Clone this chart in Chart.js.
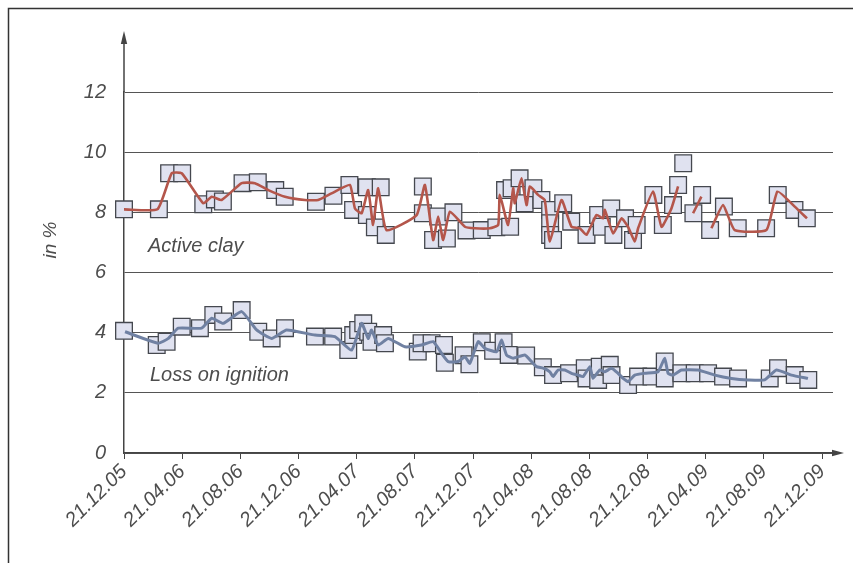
<!DOCTYPE html>
<html>
<head>
<meta charset="utf-8">
<script src="https://cdn.jsdelivr.net/npm/chart.js@4/dist/chart.umd.min.js"></script>
<style>
  html, body { margin: 0; padding: 0; background: #fff; }
  #wrap { width: 853px; height: 563px; position: relative; }
  canvas { display: block; }
</style>
</head>
<body>
<div id="wrap"><canvas id="chart" width="853" height="563"></canvas></div>
<script>
// Sampling dates on the x axis are given in months after 21.12.05.
const tickLabels = ['21.12.05', '21.04.06', '21.08.06', '21.12.06', '21.04.07', '21.08.07', '21.12.07',
                    '21.04.08', '21.08.08', '21.12.08', '21.04.09', '21.08.09', '21.12.09'];
const yTicks = [0, 2, 4, 6, 8, 10, 12];

// Active clay: individual samples (%)
const clayMonths = [0, 2.4, 3.1, 4.0, 5.45, 6.25, 6.8, 8.15, 9.2, 10.4, 11.05, 13.2, 14.4, 15.5, 15.75,
  16.7, 16.7, 17.25, 17.65, 18.0, 20.55, 20.55, 21.25, 21.6, 22.2, 22.65, 23.55, 24.6, 25.6, 26.2,
  26.55, 26.65, 27.2, 27.55, 28.15, 28.7, 29.3, 29.3, 29.3, 29.5, 30.2, 30.75, 31.8, 32.6, 32.85,
  33.5, 33.65, 34.45, 35.0, 35.25, 36.4, 37.05, 37.75, 38.1, 38.45, 39.15, 39.75, 40.3, 41.25,
  42.2, 44.15, 44.95, 46.1, 46.95];
const clayValues = [8.1, 8.1, 9.3, 9.3, 8.27, 8.43, 8.36, 8.97, 9.0, 8.74, 8.52, 8.35, 8.55, 8.91, 8.08,
  8.83, 7.91, 7.5, 8.83, 7.25, 8.86, 7.97, 7.08, 7.86, 7.13, 8.0, 7.4, 7.41, 7.5, 8.74,
  7.52, 8.8, 9.13, 8.3, 8.8, 8.41, 8.08, 7.64, 7.25, 7.08, 8.3, 7.69, 7.25, 7.91, 7.52,
  8.13, 7.25, 7.8, 7.08, 7.58, 8.58, 7.58, 8.24, 8.91, 9.63, 7.97, 8.58, 7.41, 8.19,
  7.47, 7.47, 8.58, 8.08, 7.8];

// Active clay: connecting curve (null = break in the curve)
const clayLineMonths = [0, 2.3, 3.28, 3.97, 5.45, 6.03, 6.71, 8.09, 9.0, 9.92, 11.07, 12.44, 13.35, 14.27,
  15.53, 15.88, 16.34, 16.79, 17.13, 17.48, 18.05, 20.12, 20.69, 21.26, 21.6, 21.95, 22.41, 23.44,
  24.12, 25.15, 25.73, 25.84, 26.41, 26.76, 26.87, 27.33, 27.68, 27.9, 28.47, 28.93, 29.28, 30.08,
  30.77, 31.34, 31.8, 32.49, 32.94, 33.06, 33.63, 34.21, 34.66, 35.12, 35.35, 36.38, 36.96, 37.64,
  38.1, 38.6, 39.13, 39.7, 40.0, 40.39, 41.19, 41.99, 44.17, 44.93, 46.12, 46.96];
const clayLineValues = [8.1, 8.1, 9.3, 9.3, 8.3, 8.52, 8.41, 8.97, 8.97, 8.74, 8.52, 8.41, 8.41, 8.63,
  8.91, 8.13, 7.97, 8.74, 7.58, 8.8, 7.41, 7.91, 8.91, 7.08, 7.86, 7.08, 8.02, 7.52,
  7.47, 7.47, 7.58, 8.58, 7.58, 8.8, 8.3, 9.13, 8.24, 8.86, 8.58, 8.41, 7.03, 8.41,
  7.52, 7.47, 7.25, 7.91, 7.8, 8.08, 7.3, 7.8, 7.52, 7.03, 7.47, 8.69, 7.52, 8.13,
  8.86, null, 7.97, 8.52, null, 7.47, 8.24, 7.41, 7.41, 8.69, 8.19, 7.8];

// Loss on ignition: individual samples (%)
const lossMonths = [0, 2.25, 2.93, 3.97, 5.22, 6.14, 6.82, 8.09, 9.23, 10.15, 11.07, 13.13, 14.38, 15.42,
  15.76, 16.1, 16.45, 16.79, 17.02, 17.82, 17.94, 20.2, 20.46, 21.15, 22.0, 22.06, 23.35, 23.75,
  24.6, 25.38, 26.1, 26.45, 27.65, 28.8, 29.5, 30.6, 31.68, 31.8, 32.6, 32.71, 33.4, 33.52, 34.66,
  35.35, 36.27, 37.18, 37.18, 38.33, 39.24, 40.16, 41.19, 42.22, 44.4, 44.97, 46.12, 47.05];
const lossValues = [4.06, 3.59, 3.7, 4.2, 4.15, 4.59, 4.37, 4.75, 4.03, 3.81, 4.15, 3.87, 3.87, 3.42,
  3.92, 4.09, 4.31, 4.03, 3.7, 3.92, 3.65, 3.37, 3.65, 3.65, 3.59, 3.0, 3.25, 2.95,
  3.68, 3.4, 3.68, 3.26, 3.24, 2.85, 2.59, 2.65, 2.82, 2.48, 2.43, 2.87, 2.93, 2.59, 2.26,
  2.54, 2.54, 3.04, 2.48, 2.65, 2.65, 2.65, 2.54, 2.48, 2.48, 2.82, 2.59, 2.43];

// Loss on ignition: connecting curve
const lossLineMonths = [0.07, 2.36, 3.05, 3.73, 5.34, 6.03, 6.82, 8.09, 9.12, 10.15, 11.18, 13.13, 14.5,
  15.65, 16.34, 16.79, 17.02, 17.48, 18.17, 19.31, 20.46, 21.26, 21.84, 22.29, 22.98, 23.44, 23.78,
  24.35, 24.81, 25.62, 25.96, 26.3, 26.76, 27.56, 28.02, 28.36, 28.82, 29.28, 29.5, 29.85, 30.31,
  30.77, 31.22, 31.57, 32.03, 32.25, 32.71, 33.06, 33.52, 33.97, 34.32, 34.66, 35.12, 35.81, 36.72,
  37.18, 37.41, 37.75, 38.33, 39.47, 40.62, 41.77, 42.91, 44.05, 44.86, 45.89, 47.03];
const lossLineValues = [4.03, 3.65, 3.81, 4.15, 4.15, 4.48, 4.31, 4.7, 4.09, 3.81, 4.09, 3.92, 3.87,
  3.42, 4.31, 3.81, 4.09, 3.59, 3.81, 3.53, 3.59, 3.7, 3.31, 3.04, 3.04, 3.2, 2.98,
  3.7, 3.48, 3.37, 3.76, 3.26, 3.15, 3.26, 3.04, 2.87, 2.82, 2.7, 2.54, 2.76, 2.76,
  2.65, 2.59, 2.54, 2.87, 2.48, 2.76, 2.7, 2.82, 2.65, 2.48, 2.37, 2.59, 2.65, 2.7,
  3.15, 2.65, 2.59, 2.76, 2.76, 2.59, 2.48, 2.43, 2.43, 2.76, 2.59, 2.48];

const FONT = '"Liberation Sans", Arial, sans-serif';
const TEXT = '#4d4d4d';
const AXIS = '#444';

const toPoints = (xs, ys) => xs.map((x, i) => ({ x: x, y: ys[i] }));

const markerStyle = {
  showLine: false,
  pointStyle: 'rect',
  pointRadius: 11.8,
  pointBackgroundColor: '#e0e2f0',
  pointBorderColor: '#45484f',
  pointBorderWidth: 1.3,
  clip: false,
  order: 2
};
const curveStyle = {
  pointRadius: 0,
  tension: 0.15,
  spanGaps: false,
  clip: false,
  order: 1
};

// Frame, axis arrows, y title and series names
const decorations = {
  id: 'decorations',
  afterDraw(chart) {
    const ctx = chart.ctx;
    const a = chart.chartArea;
    const xs = chart.scales.x, ys = chart.scales.y;
    const x0 = xs.getPixelForValue(0);
    const y0 = ys.getPixelForValue(0);
    ctx.save();
    // outer frame
    ctx.strokeStyle = '#333';
    ctx.lineWidth = 1.5;
    ctx.beginPath();
    ctx.moveTo(8.5, 563);
    ctx.lineTo(8.5, 8.5);
    ctx.lineTo(853, 8.5);
    ctx.stroke();
    // axis extensions with arrow heads
    ctx.strokeStyle = AXIS;
    ctx.fillStyle = AXIS;
    ctx.lineWidth = 1.5;
    ctx.beginPath();
    ctx.moveTo(x0, a.top);
    ctx.lineTo(x0, 42);
    ctx.moveTo(a.right, y0);
    ctx.lineTo(834, y0);
    ctx.stroke();
    ctx.beginPath();
    ctx.moveTo(x0, 31);
    ctx.lineTo(x0 - 3.2, 44);
    ctx.lineTo(x0 + 3.2, 44);
    ctx.closePath();
    ctx.fill();
    ctx.beginPath();
    ctx.moveTo(844, y0);
    ctx.lineTo(832, y0 - 3.2);
    ctx.lineTo(832, y0 + 3.2);
    ctx.closePath();
    ctx.fill();
    // y title
    ctx.fillStyle = TEXT;
    ctx.font = 'italic 19px ' + FONT;
    ctx.textAlign = 'center';
    ctx.textBaseline = 'middle';
    ctx.translate(51, 240);
    ctx.rotate(-Math.PI / 2);
    ctx.fillText('in %', 0, 0);
    ctx.setTransform(1, 0, 0, 1, 0, 0);
    // series names
    ctx.font = 'italic 20px ' + FONT;
    ctx.textAlign = 'left';
    ctx.textBaseline = 'alphabetic';
    ctx.fillText('Active clay', 148, 252);
    ctx.fillText('Loss on ignition', 150, 381);
    ctx.restore();
  }
};

new Chart(document.getElementById('chart'), {
  type: 'line',
  data: {
    datasets: [
      Object.assign({ label: 'Active clay', data: toPoints(clayLineMonths, clayLineValues),
        borderColor: '#b4564b', borderWidth: 2.6 }, curveStyle),
      Object.assign({ label: 'Loss on ignition', data: toPoints(lossLineMonths, lossLineValues),
        borderColor: '#7081a2', borderWidth: 3 }, curveStyle),
      Object.assign({ label: 'Active clay samples', data: toPoints(clayMonths, clayValues) }, markerStyle),
      Object.assign({ label: 'Loss on ignition samples', data: toPoints(lossMonths, lossValues) }, markerStyle)
    ]
  },
  options: {
    responsive: false,
    animation: false,
    devicePixelRatio: 1,
    layout: { padding: { left: 0, top: 92, right: 20, bottom: 0 } },
    plugins: { legend: { display: false }, tooltip: { enabled: false } },
    scales: {
      x: {
        type: 'linear',
        min: 0,
        max: 48.75,
        afterBuildTicks: s => { s.ticks = tickLabels.map((_, i) => ({ value: i * 4 })); },
        afterFit: s => { s.height = 110; },
        grid: { drawOnChartArea: false, drawTicks: true, tickLength: 6, color: AXIS, lineWidth: 1 },
        border: { display: true, color: AXIS, width: 1.5 },
        ticks: {
          autoSkip: false,
          minRotation: 45,
          maxRotation: 45,
          padding: 1,
          color: TEXT,
          font: { family: FONT, size: 20, style: 'italic' },
          callback: v => tickLabels[Math.round(v / 4)]
        }
      },
      y: {
        min: 0,
        max: 12,
        afterBuildTicks: s => { s.ticks = yTicks.map(v => ({ value: v })); },
        afterFit: s => { s.width = 124; },
        grid: { color: '#555', lineWidth: 1, drawTicks: false },
        border: { display: true, color: AXIS, width: 1.5 },
        ticks: {
          padding: 18,
          color: TEXT,
          font: { family: FONT, size: 20, style: 'italic' }
        }
      }
    }
  },
  plugins: [decorations]
});
</script>
</body>
</html>
